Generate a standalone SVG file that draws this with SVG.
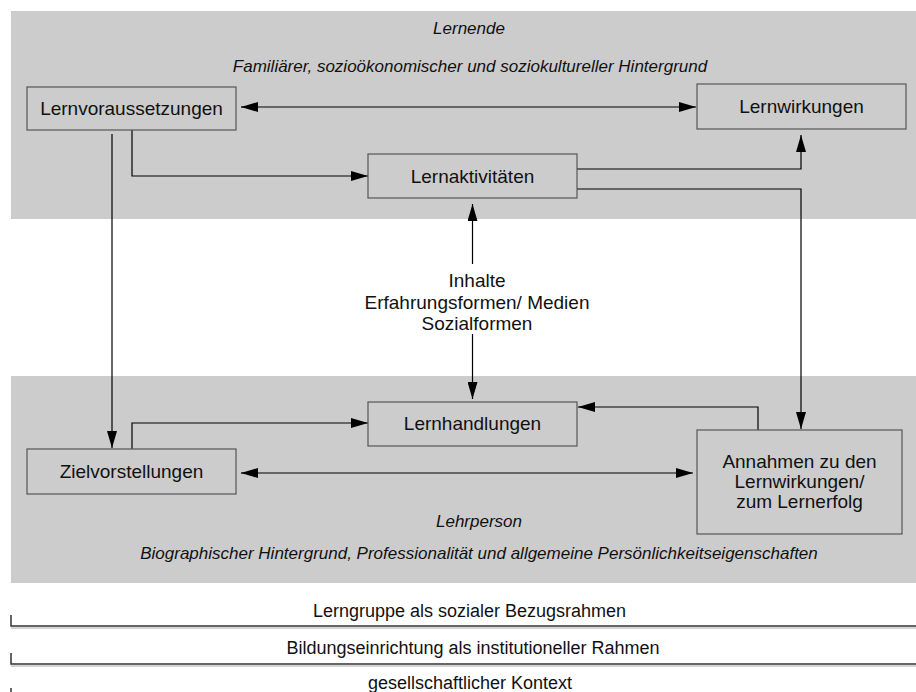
<svg xmlns="http://www.w3.org/2000/svg" width="916" height="692" viewBox="0 0 916 692">
<style>
.band{fill:#cccccc;}
.box{fill:#cccccc;stroke:#555555;stroke-width:1.2;}
.lbl{font-family:"Liberation Sans",Arial,sans-serif;font-size:19px;fill:#111111;text-anchor:middle;}
.it{font-family:"Liberation Sans",Arial,sans-serif;font-size:17px;font-style:italic;fill:#111111;text-anchor:middle;}
.ctx{font-family:"Liberation Sans",Arial,sans-serif;font-size:18px;fill:#111111;text-anchor:middle;}
.ln{fill:none;stroke:#000000;stroke-width:1.2;}
.rule{stroke:#333333;stroke-width:1.5;fill:none;}
.shadow{stroke:#aaaaaa;stroke-width:1;fill:none;}
</style>
<defs>
<marker id="ah" viewBox="0 0 17 10" refX="17" refY="5" markerWidth="17" markerHeight="10" markerUnits="userSpaceOnUse" orient="auto">
<path d="M0,0 L17,5 L0,10 z" fill="#000000"/>
</marker>
</defs>
<rect width="916" height="692" fill="#ffffff"/>
<g id="bands">
<rect class="band" x="11" y="11" width="905" height="208"/>
<rect class="band" x="11" y="376" width="905" height="207"/>
<text class="it" x="469" y="34">Lernende</text>
<text class="it" x="470" y="72">Familiärer, sozioökonomischer und soziokultureller Hintergrund</text>
<text class="it" x="479" y="527">Lehrperson</text>
<text class="it" x="479" y="559">Biographischer Hintergrund, Professionalität und allgemeine Persönlichkeitseigenschaften</text>
</g>
<g id="connectors">
<line class="ln" x1="258" y1="107" x2="241" y2="107" marker-end="url(#ah)"/>
<line class="ln" x1="250" y1="107" x2="696" y2="107" marker-end="url(#ah)"/>
<polyline class="ln" points="132,130 132,176 368,176" marker-end="url(#ah)"/>
<line class="ln" x1="112" y1="134" x2="112" y2="448" marker-end="url(#ah)"/>
<polyline class="ln" points="577,169 801,169 801,135" marker-end="url(#ah)"/>
<polyline class="ln" points="577,189 801,189 801,429" marker-end="url(#ah)"/>
<line class="ln" x1="472.5" y1="264" x2="472.5" y2="204" marker-end="url(#ah)"/>
<line class="ln" x1="472.5" y1="334" x2="472.5" y2="399" marker-end="url(#ah)"/>
<polyline class="ln" points="758,430 758,407 578,407" marker-end="url(#ah)"/>
<polyline class="ln" points="132,449 132,423 368,423" marker-end="url(#ah)"/>
<line class="ln" x1="258" y1="473" x2="241" y2="473" marker-end="url(#ah)"/>
<line class="ln" x1="250" y1="473" x2="693" y2="473" marker-end="url(#ah)"/>
</g>
<g id="n-lernvoraussetzungen">
<rect class="box" x="27" y="87" width="209" height="43"/>
<text class="lbl" x="131.5" y="115">Lernvoraussetzungen</text>
</g>
<g id="n-lernwirkungen">
<rect class="box" x="697" y="84" width="209" height="45"/>
<text class="lbl" x="801.5" y="113">Lernwirkungen</text>
</g>
<g id="n-lernaktivitaeten">
<rect class="box" x="368" y="154" width="209" height="44"/>
<text class="lbl" x="472.5" y="183">Lernaktivitäten</text>
</g>
<g id="n-inhalte">
<text class="lbl" x="477" y="287">Inhalte</text>
<text class="lbl" x="477" y="309">Erfahrungsformen/ Medien</text>
<text class="lbl" x="477" y="330">Sozialformen</text>
</g>
<g id="n-lernhandlungen">
<rect class="box" x="368" y="402" width="209" height="44"/>
<text class="lbl" x="472.5" y="430">Lernhandlungen</text>
</g>
<g id="n-zielvorstellungen">
<rect class="box" x="27" y="449" width="209" height="45"/>
<text class="lbl" x="131.5" y="478">Zielvorstellungen</text>
</g>
<g id="n-annahmen">
<rect class="box" x="697" y="430" width="205" height="104"/>
<text class="lbl" x="799.5" y="468">Annahmen zu den</text>
<text class="lbl" x="799.5" y="488">Lernwirkungen/</text>
<text class="lbl" x="799.5" y="508">zum Lernerfolg</text>
</g>
<g id="context">
<text class="ctx" x="469.5" y="617">Lerngruppe als sozialer Bezugsrahmen</text>
<polyline class="rule" points="11,615 11,626 916,626"/>
<line class="shadow" x1="11" y1="628" x2="916" y2="628"/>
<text class="ctx" x="473" y="654">Bildungseinrichtung als institutioneller Rahmen</text>
<polyline class="rule" points="11,653 11,664 916,664"/>
<line class="shadow" x1="11" y1="666" x2="916" y2="666"/>
<text class="ctx" x="470" y="689">gesellschaftlicher Kontext</text>
<line class="rule" x1="11" y1="688" x2="11" y2="692"/>
</g>
</svg>
